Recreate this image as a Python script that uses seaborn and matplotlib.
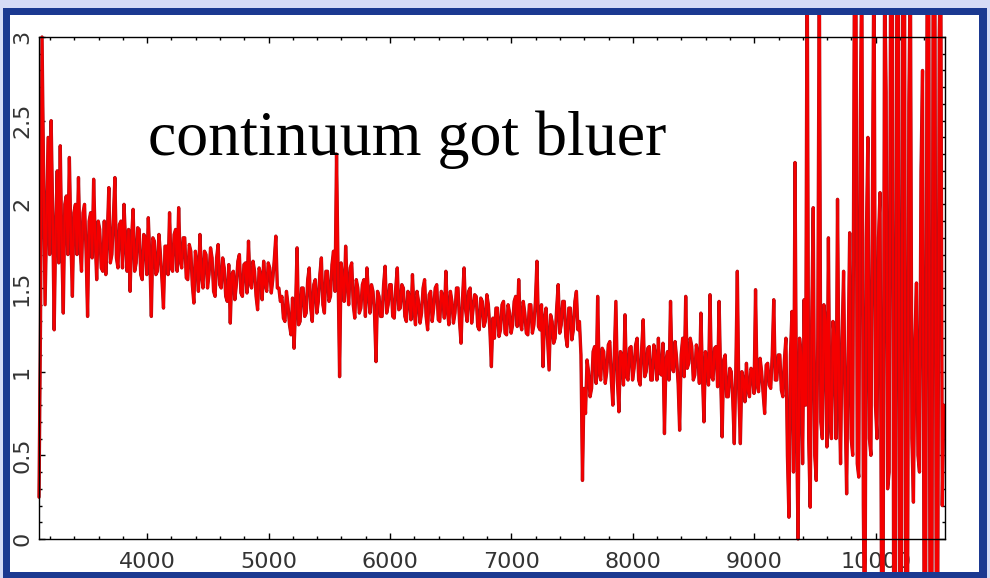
import numpy as np
import pandas as pd
import seaborn as sns
import matplotlib
matplotlib.use("Agg")
import matplotlib.pyplot as plt
import matplotlib.patheffects as pe
from matplotlib.patches import Rectangle
from matplotlib.ticker import FixedLocator, FixedFormatter, MultipleLocator
from matplotlib.transforms import Bbox, TransformedBbox

wave_start = 3110
wave_step = 12.5
flux_blocks = [
    [0.25, 1.3, 3.0, 2.2, 1.4, 1.9, 2.4, 1.7, 2.5, 1.95, 1.25, 1.85, 2.2, 1.65, 2.35, 1.75, 1.35, 2.0, 2.05, 1.7,
     2.28, 1.8, 1.45, 1.95, 2.0, 1.7, 2.16, 1.75, 1.6, 1.95, 2.0, 1.72, 1.33, 1.9, 1.95, 1.68, 2.15, 1.8, 1.55, 1.9],
    [1.85, 1.62, 1.6, 1.9, 1.58, 1.82, 2.1, 1.65, 1.7, 1.92, 2.16, 1.68, 1.62, 1.88, 1.9, 1.62, 2.0, 1.78, 1.6, 1.85,
     1.48, 1.8, 1.97, 1.6, 1.65, 1.86, 1.85, 1.58, 1.55, 1.82, 1.8, 1.58, 1.92, 1.68, 1.33, 1.8, 1.78, 1.58, 1.6, 1.82],
    [1.7, 1.55, 1.38, 1.75, 1.75, 1.58, 1.95, 1.62, 1.6, 1.82, 1.85, 1.6, 1.98, 1.66, 1.62, 1.8, 1.8, 1.56, 1.55, 1.76,
     1.72, 1.52, 1.41, 1.72, 1.65, 1.48, 1.82, 1.58, 1.5, 1.72, 1.7, 1.5, 1.58, 1.74, 1.68, 1.48, 1.45, 1.68, 1.76, 1.52],
    [1.5, 1.68, 1.62, 1.45, 1.42, 1.64, 1.29, 1.58, 1.6, 1.43, 1.52, 1.66, 1.7, 1.47, 1.45, 1.64, 1.65, 1.47, 1.78, 1.53,
     1.5, 1.66, 1.6, 1.45, 1.37, 1.62, 1.58, 1.43, 1.66, 1.52, 1.48, 1.65, 1.62, 1.47, 1.55, 1.67, 1.81, 1.5, 1.5, 1.42],
    [1.45, 1.32, 1.3, 1.48, 1.4, 1.28, 1.22, 1.44, 1.14, 1.38, 1.74, 1.28, 1.3, 1.5, 1.5, 1.33, 1.35, 1.55, 1.62, 1.38,
     1.3, 1.52, 1.55, 1.35, 1.42, 1.58, 1.68, 1.4, 1.35, 1.6, 1.6, 1.42, 1.45, 1.64, 1.72, 1.48, 2.30, 1.6, 0.97, 1.65],
    [1.55, 1.42, 1.75, 1.52, 1.4, 1.62, 1.65, 1.4, 1.32, 1.55, 1.5, 1.35, 1.38, 1.52, 1.55, 1.33, 1.62, 1.47, 1.35, 1.52,
     1.48, 1.35, 1.06, 1.48, 1.45, 1.33, 1.33, 1.52, 1.63, 1.35, 1.4, 1.52, 1.52, 1.33, 1.32, 1.5, 1.62, 1.37, 1.38, 1.52],
    [1.5, 1.33, 1.3, 1.48, 1.45, 1.31, 1.58, 1.37, 1.28, 1.48, 1.42, 1.29, 1.35, 1.5, 1.55, 1.33, 1.25, 1.46, 1.48, 1.3,
     1.38, 1.5, 1.52, 1.31, 1.3, 1.48, 1.45, 1.32, 1.6, 1.37, 1.28, 1.48, 1.42, 1.29, 1.35, 1.5, 1.5, 1.3, 1.17, 1.44],
    [1.62, 1.37, 1.3, 1.48, 1.5, 1.29, 1.38, 1.46, 1.45, 1.27, 1.25, 1.44, 1.42, 1.27, 1.3, 1.46, 1.4, 1.25, 1.03, 1.32,
     1.2, 1.38, 1.38, 1.21, 1.25, 1.4, 1.42, 1.23, 1.22, 1.4, 1.35, 1.23, 1.28, 1.42, 1.45, 1.27, 1.55, 1.29, 1.25, 1.42],
    [1.35, 1.23, 1.22, 1.4, 1.4, 1.23, 1.28, 1.42, 1.66, 1.27, 1.25, 1.4, 1.03, 1.32, 1.38, 1.19, 1.01, 1.34, 1.3, 1.17,
     1.2, 1.38, 1.52, 1.23, 1.28, 1.42, 1.42, 1.21, 1.15, 1.38, 1.38, 1.19, 1.25, 1.42, 1.48, 1.25, 1.3, 1.1, 0.35, 0.9],
    [0.75, 1.07, 1.0, 0.85, 0.9, 1.12, 1.15, 0.93, 1.45, 0.99, 0.95, 1.14, 1.12, 0.93, 1.0, 1.16, 1.18, 0.95, 0.8, 1.1,
     1.42, 0.95, 0.76, 1.12, 1.1, 0.92, 1.34, 0.97, 0.95, 1.14, 1.15, 0.95, 1.02, 1.16, 1.2, 0.95, 0.92, 1.14, 1.31, 0.97],
    [1.0, 1.14, 1.15, 0.95, 0.95, 1.16, 1.1, 0.95, 1.2, 0.99, 0.98, 1.17, 0.63, 1.07, 1.12, 0.95, 1.42, 1.02, 1.0, 1.18,
     1.08, 0.93, 0.65, 1.1, 1.2, 0.97, 1.45, 1.02, 1.05, 1.2, 1.15, 0.95, 0.98, 1.16, 1.1, 0.93, 1.35, 0.99, 0.7, 1.12],
    [1.05, 0.92, 1.46, 0.97, 0.95, 1.14, 1.15, 0.91, 1.42, 0.97, 0.61, 1.07, 1.1, 0.85, 0.85, 1.02, 1.0, 0.83, 0.57, 1.0,
     1.6, 0.87, 0.57, 1.0, 0.95, 0.82, 1.05, 0.89, 0.85, 1.02, 1.0, 0.87, 1.49, 0.92, 0.88, 1.08, 1.0, 0.87, 0.75, 1.04],
    [1.05, 0.92, 0.9, 1.1, 1.43, 0.95, 0.95, 1.1, 1.1, 0.89, 0.85, 1.07, 1.2, 0.5, 0.13, 1.1, 1.36, 0.4, 2.25, 0.7,
     0.0, 1.2, 1.1, 0.45, 1.43, 0.8, 3.6, 0.6, 0.19, 1.3, 1.98, 0.5, 0.35, 1.2, 3.5, 0.7, 0.6, 1.4, 1.3, 0.55],
    [1.8, 0.7, 0.6, 1.3, 1.2, 0.6, 2.03, 0.9, 0.45, 1.2, 1.6, 0.8, 0.27, 1.1, 1.83, 0.6, 0.5, 3.2, 3.8, 0.45,
     0.37, 2.5, 3.5, 0.2, -0.8, 1.8, 2.4, 0.6, 0.5, 2.0, 3.6, 0.8, 0.6, 1.8, 2.07, -0.4, -0.5, 3.4, 2.67, 0.3],
    [0.4, 3.5, 4.0, -0.5, -1.0, 3.2, 3.8, -0.6, -0.8, 3.6, 4.2, -0.8, -1.0, 2.6, 3.5, 0.6, 0.22, 1.2, 1.53, 0.5,
     0.4, 2.2, 2.8, -0.4, -0.6, 3.3, 3.9, -0.9, -1.2, 3.4, 4.0, -0.3, -0.5, 3.0, 3.6, 0.2, 0.8],
]
flux = [v for block in flux_blocks for v in block]
wavelength = wave_start + wave_step * np.arange(len(flux))

x_ticks = [4000, 5000, 6000, 7000, 8000, 9000, 10000]
x_labels = ["4000", "5000", "6000", "7000", "8000", "9000", "10000"]
y_ticks = [0, 0.5, 1, 1.5, 2, 2.5, 3]
y_labels = ["0", "0.5", "1", "1.5", "2", "2.5", "3"]
note = "continuum got bluer"

df = pd.DataFrame({"wavelength": wavelength, "flux": flux})

sns.set_style("ticks")
plt.rcParams["font.family"] = ["DejaVu Sans"]

W, H = 990, 578
fig = plt.figure(figsize=(W / 100, H / 100), dpi=100, facecolor="#d6dbf6")

# slide frame: dark blue border with white panel
fig.patches.append(Rectangle((3 / W, 0), 984 / W, (H - 8) / H, transform=fig.transFigure,
                             facecolor="#1b3991", edgecolor="none", zorder=-2))
panel = (10 / W, (H - 572) / H, 979 / W, (H - 15) / H)
fig.patches.append(Rectangle((panel[0], panel[1]), panel[2] - panel[0], panel[3] - panel[1],
                             transform=fig.transFigure, facecolor="white", edgecolor="none", zorder=-1))

ax = fig.add_axes([39 / W, (H - 539) / H, (945 - 39) / W, (539 - 37) / H])
ax.set_facecolor("white")

sns.lineplot(data=df, x="wavelength", y="flux", ax=ax, color="#f50000", linewidth=1.7,
             sort=False, estimator=None)

# dark red rim on the spikes, and let them run past the axes up to the white panel edge
line = ax.lines[0]
line.set_path_effects([pe.Stroke(linewidth=2.4, foreground="#a8141c"), pe.Normal()])
line.set_clip_box(TransformedBbox(Bbox.from_extents(*panel), fig.transFigure))

ax.set_xlim(3110, 10570)
ax.set_ylim(0, 3)
ax.xaxis.set_major_locator(FixedLocator(x_ticks))
ax.xaxis.set_major_formatter(FixedFormatter(x_labels))
ax.xaxis.set_minor_locator(MultipleLocator(200))
ax.yaxis.set_major_locator(FixedLocator(y_ticks))
ax.yaxis.set_major_formatter(FixedFormatter(y_labels))
ax.yaxis.set_minor_locator(MultipleLocator(0.1))

ax.tick_params(which="both", direction="in", top=True, right=True, width=1, color="black")
ax.tick_params(which="major", length=4.5, labelsize=16, labelcolor="#333333")
ax.tick_params(which="minor", length=2.2)
ax.tick_params(axis="x", pad=9)
ax.tick_params(axis="y", pad=5, labelrotation=90)
for lab in ax.get_yticklabels():
    lab.set_va("center")

for s in ax.spines.values():
    s.set_linewidth(1)
    s.set_color("black")

ax.set_xlabel("")
ax.set_ylabel("")

ax.text(0.1203, 0.765, note, transform=ax.transAxes, fontsize=46,
        family=["Liberation Serif", "DejaVu Serif"], color="black", ha="left", va="baseline")

fig.savefig("out.png", dpi=100, facecolor=fig.get_facecolor())
